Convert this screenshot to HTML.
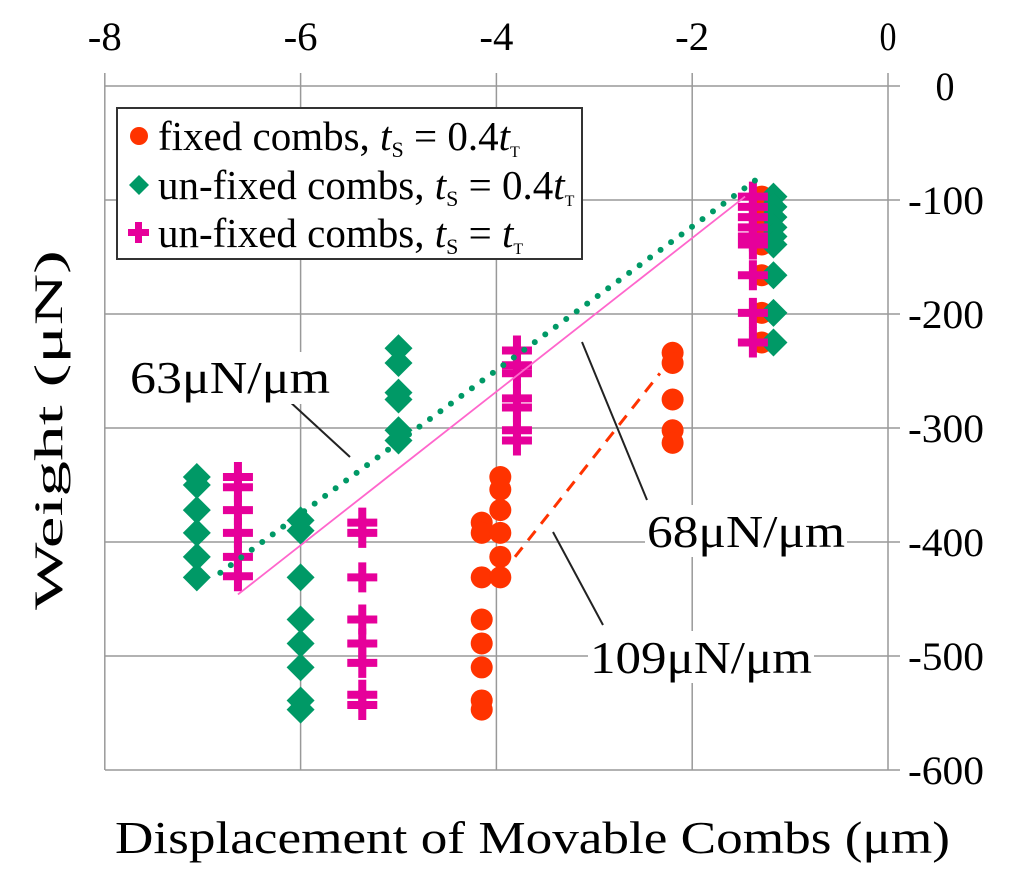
<!DOCTYPE html>
<html><head><meta charset="utf-8"><style>
html,body{margin:0;padding:0;background:#fff}
svg{display:block;font-family:"Liberation Serif",serif}
</style></head><body>
<svg id="chart" width="1024" height="885" viewBox="0 0 1024 885" xmlns="http://www.w3.org/2000/svg">
<g id="grid"></g>
<g id="series"></g>
<g id="labels"></g>
</svg>
<script>
const xTicks=[-8,-6,-4,-2,0];
const yTicks=[0,-100,-200,-300,-400,-500,-600];
const fixedX=[-4.15,-4.15,-4.15,-4.15,-4.15,-4.15,-4.15,-4.15,-3.96,-3.96,-3.96,-3.96,-3.96,-3.96,-2.2,-2.2,-2.2,-2.2,-2.2,-1.29,-1.29,-1.29,-1.29,-1.29,-1.29,-1.29,-1.29,-1.29];
const fixedY=[-383,-392,-431,-468,-489,-510,-539,-547,-343,-354,-372,-392,-413,-431,-234,-243,-275,-302,-313,-97,-106,-115,-124,-132,-139,-166,-199,-225];
const unfixedX=[-7.06,-7.06,-7.06,-7.06,-7.06,-7.06,-6,-6,-6,-6,-6,-6,-6,-6,-5,-5,-5,-5,-5,-5,-1.17,-1.17,-1.17,-1.17,-1.17,-1.17,-1.17,-1.17,-1.17];
const unfixedY=[-343,-350,-372,-392,-413,-431,-381,-390,-431,-468,-489,-510,-539,-547,-230,-243,-269,-275,-302,-311,-97,-106,-115,-124,-132,-139,-166,-199,-225];
const equalX=[-6.64,-6.64,-6.64,-6.64,-6.64,-6.64,-5.37,-5.37,-5.37,-5.37,-5.37,-5.37,-5.37,-5.37,-3.79,-3.79,-3.79,-3.79,-3.79,-3.79,-3.79,-1.38,-1.38,-1.38,-1.38,-1.38,-1.38,-1.38,-1.38,-1.38];
const equalY=[-343,-352,-372,-392,-413,-430,-383,-392,-431,-468,-489,-506,-534,-543,-232,-245,-252,-274,-282,-302,-311,-97,-106,-115,-124,-132,-139,-166,-199,-225];
const fitGreen=[[-6.82,-427],[-1.28,-78]];
const fitPink=[[-6.64,-446],[-1.46,-97]];
const fitOrange=[[-3.81,-413],[-2.33,-252]];

const NS="http://www.w3.org/2000/svg";
const X=v=>888+v*97.9, Y=v=>86-v*1.14;
function mk(tag,attrs,parent){const e=document.createElementNS(NS,tag);for(const k in attrs)e.setAttribute(k,attrs[k]);parent.appendChild(e);return e;}
const grid=document.getElementById('grid'),ser=document.getElementById('series'),lab=document.getElementById('labels');

xTicks.forEach(t=>{
  const l=mk('line',{x1:X(t),x2:X(t),y1:73,y2:770,stroke:'#999','stroke-width':1.5},grid);
  
  
  const s=String(t);
  const tx=mk('text',{x:X(t),y:50,'font-size':40,'text-anchor':'middle',textLength:s.length*17,lengthAdjust:'spacingAndGlyphs'},lab);
  tx.textContent=s;
  
  
});
yTicks.forEach(t=>{
  const l=mk('line',{x1:105,x2:900,y1:Y(t),y2:Y(t),stroke:'#999','stroke-width':1.5},grid);
  
  
  const s=String(t);
  const tx=mk('text',{x:t===0?945:946,y:Y(t)+14,'font-size':40,'text-anchor':'middle',textLength:s.length*19,lengthAdjust:'spacingAndGlyphs'},lab);
  tx.textContent=s;
  
  
});

function fit(p,attrs,name){
  const l=mk('line',Object.assign({x1:X(p[0][0]),y1:Y(p[0][1]),x2:X(p[1][0]),y2:Y(p[1][1])},attrs),ser);
  
  
}
function circ(x,y,r,c){return mk('circle',{cx:x,cy:y,r:r,fill:c},ser);}
function diam(x,y,s,c){return mk('polygon',{points:`${x},${y-s} ${x+s},${y} ${x},${y+s} ${x-s},${y}`,fill:c},ser);}
function plus(x,y,s,w,c,p){return mk('path',{d:`M${x-w/2},${y-s}h${w}v${s-w/2}h${s-w/2}v${w}h${-(s-w/2)}v${s-w/2}h${-w}v${-(s-w/2)}h${-(s-w/2)}v${-w}h${s-w/2}z`,fill:c},p||ser);}

fixedX.forEach((v,i)=>{const e=circ(X(v),Y(fixedY[i]),11,'#ff3300');
  
  });
unfixedX.forEach((v,i)=>{const e=diam(X(v),Y(unfixedY[i]),14,'#009966');
  
  });
equalX.forEach((v,i)=>{const e=plus(X(v),Y(equalY[i]),15,8,'#e6009a');
  
  });

fit(fitGreen,{stroke:'#009966','stroke-width':6,'stroke-dasharray':'0 13','stroke-linecap':'round'},'fit-line-63');
fit(fitPink,{stroke:'#ff66cc','stroke-width':1.8},'fit-line-68');
fit(fitOrange,{stroke:'#ff3300','stroke-width':3,'stroke-dasharray':'12 9'},'fit-line-109');
</script>
<svg style="position:absolute;left:0;top:0" width="1024" height="885">
<g font-family="'Liberation Serif',serif">
<g>
<rect x="117" y="108" width="465" height="151" fill="#fff" stroke="#333" stroke-width="2"/>
<circle cx="139" cy="136" r="9" fill="#ff3300"/>
<polygon points="139,175 149,185 139,195 129,185" fill="#009966"/>
<path d="M135,222h7v7h7v7h-7v7h-7v-7h-7v-7h7z" fill="#e6009a"/>
<text x="158" y="150" font-size="41">fixed combs, <tspan font-style="italic">t</tspan><tspan font-size="22" dy="7">S</tspan><tspan dy="-7"> = 0.4</tspan><tspan font-style="italic">t</tspan><tspan font-size="16" dy="7">T</tspan></text>
<text x="158" y="199" font-size="41">un-fixed combs, <tspan font-style="italic">t</tspan><tspan font-size="22" dy="7">S</tspan><tspan dy="-7"> = 0.4</tspan><tspan font-style="italic">t</tspan><tspan font-size="16" dy="7">T</tspan></text>
<text x="158" y="247" font-size="41">un-fixed combs, <tspan font-style="italic">t</tspan><tspan font-size="22" dy="7">S</tspan><tspan dy="-7"> = </tspan><tspan font-style="italic">t</tspan><tspan font-size="16" dy="7">T</tspan></text>
</g>
<line x1="288" y1="400" x2="350" y2="457" stroke="#222" stroke-width="2"/>
<line x1="582" y1="342" x2="647" y2="500" stroke="#222" stroke-width="2"/>
<line x1="553" y1="532" x2="603" y2="625" stroke="#222" stroke-width="2"/>
<rect x="128" y="352" width="205" height="52" fill="#fff"/>
<text x="130" y="393" font-size="46" textLength="200" lengthAdjust="spacingAndGlyphs">63μN/μm</text>
<rect x="645" y="505" width="202" height="52" fill="#fff"/>
<text x="647" y="547" font-size="46" textLength="198" lengthAdjust="spacingAndGlyphs">68μN/μm</text>
<rect x="588" y="631" width="226" height="52" fill="#fff"/>
<text x="590" y="673" font-size="46" textLength="222" lengthAdjust="spacingAndGlyphs">109μN/μm</text>
<text x="0" y="0" font-size="40" text-anchor="middle" textLength="360" lengthAdjust="spacingAndGlyphs" transform="translate(62,430) rotate(-90)">Weight (μN)</text>
<text x="115" y="853" font-size="46" textLength="835" lengthAdjust="spacingAndGlyphs">Displacement of Movable Combs (μm)</text>
</g>
</svg>
</body></html>
